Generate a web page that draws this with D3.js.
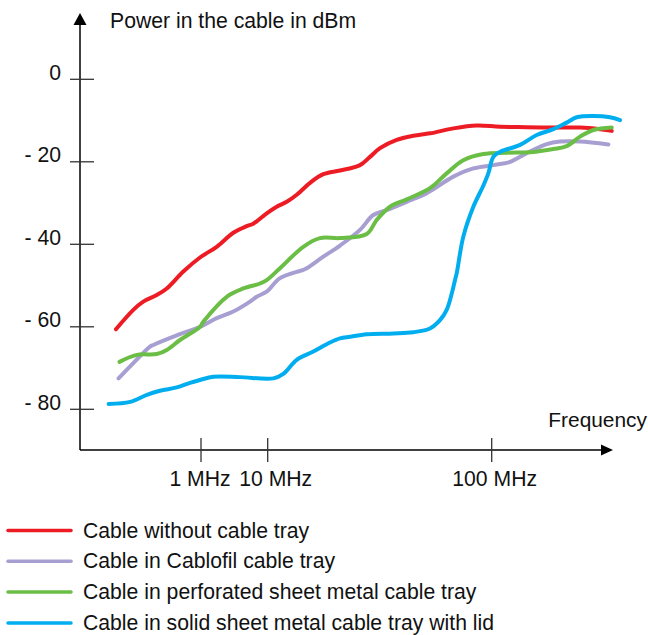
<!DOCTYPE html>
<html>
<head>
<meta charset="utf-8">
<script src="https://cdn.jsdelivr.net/npm/d3@7"></script>
<style>
  html, body { margin: 0; padding: 0; background: #fff; }
  svg { display: block; font-family: Arial, "Liberation Sans", Helvetica, sans-serif; }
</style>
</head>
<body>
<svg id="chart" width="648" height="635"></svg>
<script>
// Frequency in MHz, power in dBm
const redFreq = [0.054, 0.098, 0.138, 0.219, 0.309, 0.545, 0.966, 1.72, 3.05, 4.84, 6.08, 9.66, 10.97, 12.16, 13.48, 15.45, 17.71, 21.03, 25.83, 28.62, 31.72, 37.67, 44.67, 53.03, 67.4, 85.7, 108.9, 143.3, 188.4, 247.8, 304.4, 343.4];
const redPower = [-60.6, -55.9, -53.9, -52.3, -50.7, -46.6, -43.2, -40.6, -37.2, -35.6, -35.0, -32.5, -30.9, -29.7, -28.0, -25.1, -23.0, -22.1, -20.8, -18.8, -16.7, -14.7, -13.7, -13.1, -11.9, -11.2, -11.5, -11.6, -11.7, -11.7, -12.1, -12.5];

const lavenderFreq = [0.059, 0.098, 0.174, 0.195, 0.435, 0.966, 1.72, 3.05, 5.43, 6.84, 9.66, 11.35, 14.42, 14.93, 17.71, 21.03, 25.83, 29.61, 33.98, 41.75, 51.26, 67.4, 82.8, 101.7, 120.7, 143.3, 176, 201.8, 247.8, 331.6];
const lavenderPower = [-72.5, -68.8, -64.8, -64.4, -62.1, -60.0, -57.9, -56.3, -53.9, -52.7, -51.5, -48.2, -46.2, -45.8, -43.0, -40.3, -36.5, -32.9, -31.7, -29.7, -27.6, -23.6, -21.6, -20.8, -20.0, -17.9, -15.7, -15.1, -15.1, -15.8];

const greenFreq = [0.061, 0.1105, 0.219, 0.309, 0.487, 0.966, 1.083, 2.54, 4.31, 7.67, 9.66, 11.35, 14.42, 17.12, 21.03, 27.67, 30.66, 35.16, 41.75, 53.03, 62.95, 74.65, 91.7, 116.7, 153.4, 188.4, 216.1, 247.8, 284.2, 343.4];
const greenPower = [-68.5, -66.8, -66.6, -65.6, -63.2, -60.0, -58.8, -52.5, -50.7, -49.5, -48.7, -45.8, -40.6, -38.5, -38.5, -37.5, -34.1, -30.9, -29.1, -26.4, -22.8, -19.6, -18.1, -17.8, -17.6, -16.9, -16.2, -13.9, -12.3, -11.7];

const blueFreq = [0.042, 0.088, 0.156, 0.245, 0.435, 0.686, 0.966, 1.53, 3.84, 10.6, 11.74, 13.48, 15.98, 18.97, 21.03, 23.31, 27.67, 36.39, 44.67, 53.03, 58.76, 62.95, 66.29, 68.55, 69.8, 74.65, 82.8, 91.7, 96.6, 101.7, 108.9, 133.8, 158.8, 188.4, 216.1, 239.6, 284.2, 337.3, 374];
const bluePower = [-78.7, -78.2, -76.5, -75.5, -74.7, -73.6, -72.9, -72.1, -72.2, -72.5, -71.4, -68.0, -66.0, -63.8, -62.8, -62.4, -61.8, -61.6, -61.3, -60.4, -58.4, -55.9, -52.0, -48.7, -47.0, -38.2, -30.9, -25.8, -22.8, -18.8, -17.6, -15.9, -13.5, -12.1, -10.5, -9.2, -8.9, -9.2, -9.9];

const seriesNames = [
  "Cable without cable tray",
  "Cable in Cablofil cable tray",
  "Cable in perforated sheet metal cable tray",
  "Cable in solid sheet metal cable tray with lid"
];
const seriesColors = ["#ED1C24", "#A79FD1", "#6BBE45", "#00AEEF"];

const yTickValues = [0, -20, -40, -60, -80];
const yTickLabels = ["0", "- 20", "- 40", "- 60", "- 80"];
const xTickValues = [1, 10, 100];
const xTickLabels = ["1 MHz", "10 MHz", "100 MHz"];

const yTitle = "Power in the cable in dBm";
const xTitle = "Frequency";

// ---- build series ----
const series = [
  { name: seriesNames[0], color: seriesColors[0], values: redFreq.map((f, i) => ({ f, p: redPower[i] })) },
  { name: seriesNames[1], color: seriesColors[1], values: lavenderFreq.map((f, i) => ({ f, p: lavenderPower[i] })) },
  { name: seriesNames[2], color: seriesColors[2], values: greenFreq.map((f, i) => ({ f, p: greenPower[i] })) },
  { name: seriesNames[3], color: seriesColors[3], values: blueFreq.map((f, i) => ({ f, p: bluePower[i] })) }
];

const svg = d3.select("#chart");

// Schematic frequency axis: piecewise logarithmic
const x = d3.scaleLog()
  .domain([0.04, 1, 10, 100, 400])
  .range([107.2, 201, 267.7, 491.7, 626.6]);

const y = d3.scaleLinear()
  .domain([-80, 0])
  .range([409.3, 79.3]);

const originX = 80, originY = 450;
const font = 21.2;

// ---- axes ----
const axes = svg.append("g");
axes.append("line")
  .attr("x1", originX).attr("x2", originX)
  .attr("y1", 24).attr("y2", originY)
  .attr("stroke", "#000").attr("stroke-width", 1.5);
axes.append("path")
  .attr("d", `M${originX},13 L${originX - 6.5},25 L${originX + 6.5},25 Z`)
  .attr("fill", "#000");

axes.append("line")
  .attr("x1", originX).attr("x2", 603)
  .attr("y1", originY).attr("y2", originY)
  .attr("stroke", "#000").attr("stroke-width", 1.5);
axes.append("path")
  .attr("d", `M613,${originY} L601,${originY - 5.5} L601,${originY + 5.5} Z`)
  .attr("fill", "#000");

// y ticks
const yt = axes.selectAll("g.ytick").data(yTickValues).join("g").attr("class", "ytick");
yt.append("line")
  .attr("x1", 70).attr("x2", 94)
  .attr("y1", d => y(d)).attr("y2", d => y(d))
  .attr("stroke", "#333").attr("stroke-width", 1.3);
yt.append("text")
  .attr("x", 61)
  .attr("y", d => y(d) + 0.5)
  .attr("text-anchor", "end")
  .attr("font-size", font)
  .attr("fill", "#111")
  .text((d, i) => yTickLabels[i]);

// x ticks
const labelShift = [-1, 8, 3];
const xt = axes.selectAll("g.xtick").data(xTickValues).join("g").attr("class", "xtick");
xt.append("line")
  .attr("x1", d => x(d)).attr("x2", d => x(d))
  .attr("y1", 438).attr("y2", 462)
  .attr("stroke", "#333").attr("stroke-width", 1.3);
xt.append("text")
  .attr("x", (d, i) => x(d) + labelShift[i])
  .attr("y", 486)
  .attr("text-anchor", "middle")
  .attr("font-size", font)
  .attr("fill", "#111")
  .text((d, i) => xTickLabels[i]);

// axis titles
svg.append("text")
  .attr("x", 110).attr("y", 28)
  .attr("font-size", font).attr("fill", "#111")
  .text(yTitle);
svg.append("text")
  .attr("x", 647).attr("y", 427)
  .attr("text-anchor", "end")
  .attr("font-size", 20.9).attr("fill", "#111")
  .text(xTitle);

// ---- curves ----
const line = d3.line()
  .x(d => x(d.f))
  .y(d => y(d.p))
  .curve(d3.curveCatmullRom.alpha(0.5));

svg.append("g")
  .selectAll("path")
  .data(series)
  .join("path")
  .attr("d", d => line(d.values))
  .attr("fill", "none")
  .attr("stroke", d => d.color)
  .attr("stroke-width", 4)
  .attr("stroke-linecap", "round")
  .attr("stroke-linejoin", "round");

// ---- legend ----
const legend = svg.append("g");
const rows = legend.selectAll("g").data(series).join("g")
  .attr("transform", (d, i) => `translate(0, ${530.5 + i * 30.8})`);
rows.append("line")
  .attr("x1", 8).attr("x2", 71)
  .attr("y1", 0).attr("y2", 0)
  .attr("stroke", d => d.color)
  .attr("stroke-width", 3.5)
  .attr("stroke-linecap", "round");
rows.append("text")
  .attr("x", 83).attr("y", 7)
  .attr("font-size", font)
  .attr("fill", "#111")
  .text(d => d.name);
</script>
</body>
</html>
